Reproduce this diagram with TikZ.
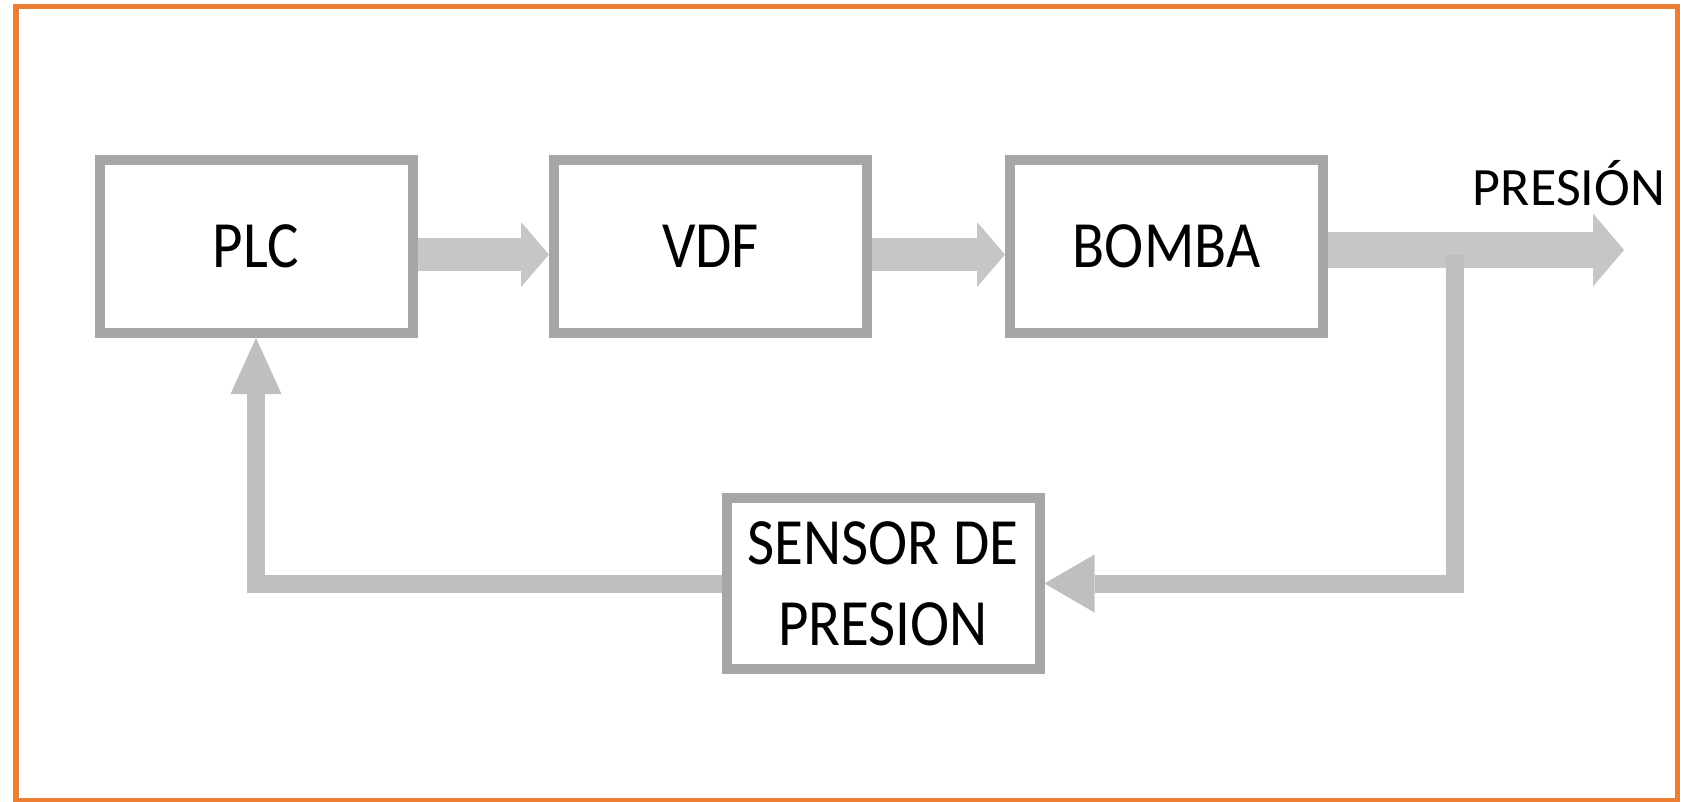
\documentclass[tikz,border=0pt]{standalone}
\usepackage{graphicx}
\usepackage{fontspec}
\setmainfont{Carlito}
\usetikzlibrary{arrows.meta}

\definecolor{frameorange}{HTML}{ED7D31}
\definecolor{boxgray}{HTML}{A6A6A6}
\definecolor{arrowgray}{HTML}{C6C6C6}
\definecolor{linkgray}{HTML}{BFBFBF}

% block labels are set slightly taller than the font's natural shape
\newcommand{\tallcaps}[1]{\scalebox{1}[1.12]{#1}}

\begin{document}
\begin{tikzpicture}[x=1pt, y=-1pt,
  block/.style={rectangle, draw=boxgray, line width=10pt, fill=white,
    minimum width=313pt, minimum height=173pt, inner sep=0pt,
    font=\fontsize{59}{72}\selectfont},
  flow/.style={draw=arrowgray, line width=33pt},
  mainflow/.style={draw=arrowgray, line width=36pt},
  feedback/.style={draw=linkgray, line width=18pt, line join=miter},
]
\useasboundingbox (0,0) rectangle (1693,802);
\fill[white] (0,0) rectangle (1693,802);

% outer frame
\draw[frameorange, line width=5.5pt] (16,6.5) rectangle (1677.5,800.5);

% blocks
\node[block] (plc)   at (256,246.5)   {\tallcaps{PLC}};
\node[block] (vdf)   at (710.5,246.5) {\tallcaps{VDF}};
\node[block] (bomba) at (1166.5,246.5) {\tallcaps{BOMBA}};
\node[block, minimum height=171pt] (sensor) at (883,583.5)
  {\tallcaps{\parbox[c]{300pt}{\centering SENSOR DE\\PRESION}}};

% output label
\node[font=\fontsize{54}{65}\selectfont, anchor=base, inner sep=0pt]
  (plabel) at (1569,206) {PRESIÓN};

\coordinate (out) at (1624,250);
\coordinate (tap) at (1455,255);

% forward path
\draw[flow, -{Triangle[width=65pt,length=28pt,line width=0pt]}]
  ([yshift=-8pt]plc.east) -- ([yshift=-8pt]vdf.west);
\draw[flow, -{Triangle[width=65pt,length=28pt,line width=0pt]}]
  ([yshift=-8pt]vdf.east) -- ([yshift=-8pt]bomba.west);
\draw[mainflow, -{Triangle[width=73pt,length=31pt,line width=0pt]}]
  ([yshift=-3.5pt]bomba.east) -- (out);

% feedback path
\draw[feedback, -{Triangle[width=58pt,length=50pt,line width=0pt]}]
  (tap) |- (sensor.east);
\draw[feedback, -{Triangle[width=51pt,length=56pt,line width=0pt]}]
  (sensor.west) -| (plc.south);
\end{tikzpicture}
\end{document}
